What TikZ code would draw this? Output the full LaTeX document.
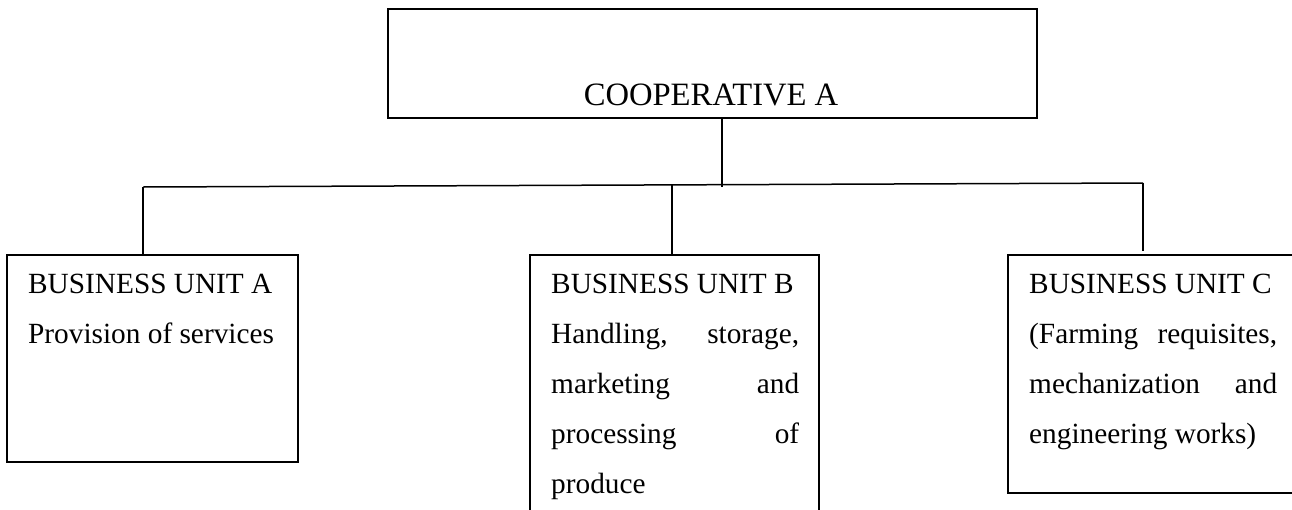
\documentclass[tikz,border=0pt]{standalone}
\usepackage{fontspec}
\setmainfont{Liberation Serif}
\begin{document}
\begin{tikzpicture}[x=1pt,y=-1pt,
  box/.style={draw,line width=1.5pt,rectangle,inner sep=0pt},
  wire/.style={line width=1.5pt},
  txt/.style={anchor=base west,inner sep=0pt,font=\fontsize{29.3}{50}\selectfont},
  toptxt/.style={anchor=base,inner sep=0pt,font=\fontsize{32.6}{38}\selectfont}]
\useasboundingbox (0,0) rectangle (1292,509);
\clip (0,0) rectangle (1292,509);

% boxes
\node[box,minimum width=649pt,minimum height=109pt] (coop) at (712.5,63.5) {};
\node[box,minimum width=291pt,minimum height=207pt] (unitA) at (152.5,358.5) {};
\node[box,minimum width=289pt,minimum height=305pt] (unitB) at (674.5,407.5) {};
\node[box,minimum width=302pt,minimum height=238pt] (unitC) at (1159,374) {};

% box texts
\node[toptxt] (coopT) at (711,105) {COOPERATIVE A};

\node[txt] (a1) at (28,293) {BUSINESS UNIT A};
\node[txt] (a2) at (28,343) {Provision of services};

\node[txt] (b1) at (551,293) {BUSINESS UNIT B};
\node[txt] (b2) at (551,343) {\hbox to 248pt{Handling,\hfill storage,}};
\node[txt] (b3) at (551,393) {\hbox to 248pt{marketing\hfill and}};
\node[txt] (b4) at (551,443) {\hbox to 248pt{processing\hfill of}};
\node[txt] (b5) at (551,493) {produce};

\node[txt] (c1) at (1029,293) {BUSINESS UNIT C};
\node[txt] (c2) at (1029,343) {\hbox to 248pt{(Farming\hfill requisites,}};
\node[txt] (c3) at (1029,393) {\hbox to 248pt{mechanization\hfill and}};
\node[txt] (c4) at (1029,443) {engineering works)};

% connectors
\coordinate (stem) at (722,187);
\coordinate (busA) at (143,187);
\coordinate (busB) at (672,185.2);
\coordinate (busC) at (1143,183);
\draw[wire] (stem |- coop.south) -- (stem);
\draw[wire] (busA) -- (busC);
\draw[wire] (busA) -- (busA |- unitA.north);
\draw[wire] (busB) -- (busB |- unitB.north);
\draw[wire] (busC) -- ([yshift=3pt]busC |- unitC.north);
\end{tikzpicture}
\end{document}
